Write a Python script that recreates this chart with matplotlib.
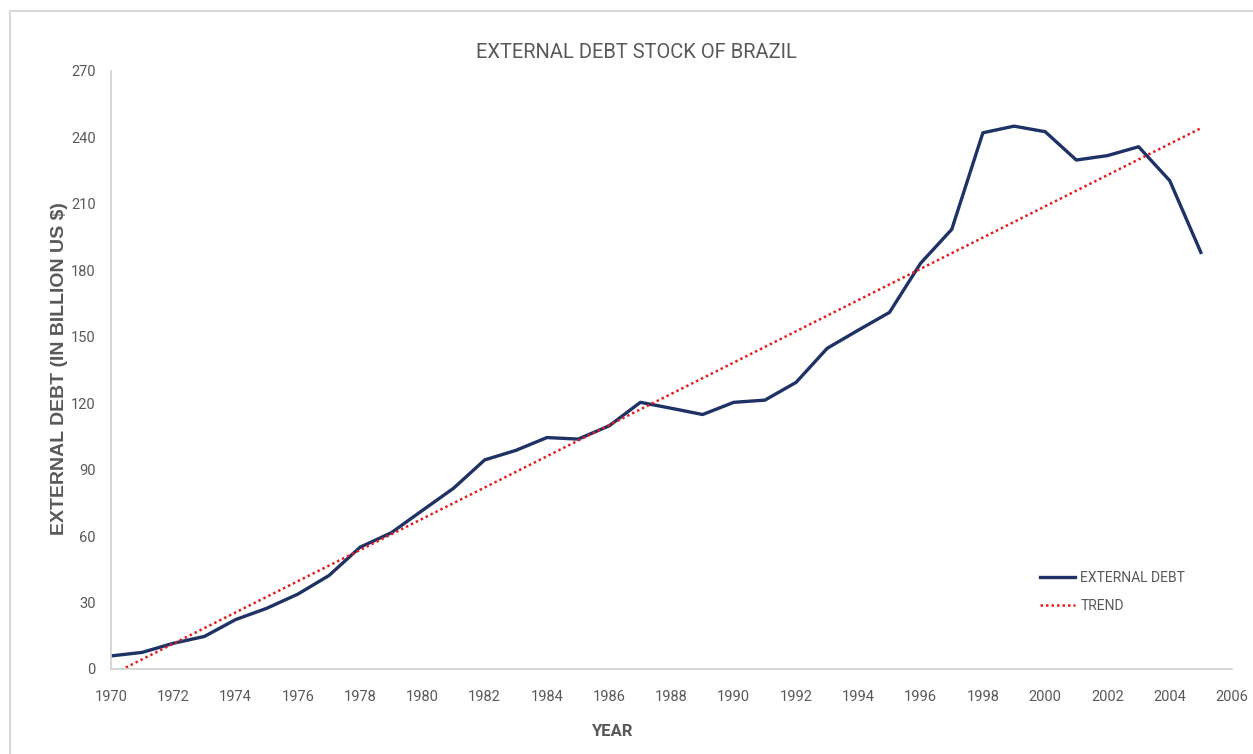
import numpy as np
import matplotlib
matplotlib.use("Agg")
import matplotlib.pyplot as plt
from matplotlib.lines import Line2D

years = list(range(1970, 2006))
external_debt = [5.9, 7.5, 11.6, 14.7, 22.3, 27.4, 33.8, 42.2, 55.0, 61.5,
                 71.6, 81.6, 94.4, 98.7, 104.5, 103.8, 109.8, 120.4, 117.7, 114.9,
                 120.4, 121.4, 129.4, 144.8, 153.0, 161.0, 183.2, 198.5, 242.1, 245.1,
                 242.6, 229.8, 231.8, 235.8, 220.5, 188.1]
y_ticks = [0, 30, 60, 90, 120, 150, 180, 210, 240, 270]
x_ticks = list(range(1970, 2007, 2))
title = "EXTERNAL DEBT STOCK OF BRAZIL"
x_label = "YEAR"
y_label = "EXTERNAL DEBT (IN BILLION US $)"
legend_labels = ["EXTERNAL DEBT", "TREND"]

plt.rcParams['font.family'] = ['Roboto', 'DejaVu Sans']

W, H = 1253, 754
grey = "#595959"
fig = plt.figure(figsize=(W/100, H/100), dpi=100)
ax = fig.add_axes([111/W, 1 - 669/H, (1232-111)/W, (669-71)/H])

x = np.array(years, dtype=float)
y = np.array(external_debt)
coef = np.polyfit(x, y, 1)
trend = np.polyval(coef, x)

ax.plot(x, y, color="#1f3266", lw=2.4, label=legend_labels[0], solid_joinstyle='round')
ax.plot(x, trend, color="#e02020", lw=1.8, ls=(0, (1, 1.2)), label=legend_labels[1])

ax.set_xlim(1970, 2006)
ax.set_ylim(0, 270)
ax.set_xticks(x_ticks)
ax.set_yticks(y_ticks)
ax.tick_params(axis='both', length=0, labelsize=10.5, labelcolor=grey)
ax.tick_params(axis='x', pad=15)
ax.tick_params(axis='y', pad=11)
for s in ['top', 'right']:
    ax.spines[s].set_visible(False)
for s in ['left', 'bottom']:
    ax.spines[s].set_color("#d0d0d0")
    ax.spines[s].set_linewidth(1.2)

fig.text(636/W, 1 - 52/H, title, ha='center', va='center', fontsize=14.5, color=grey)
fig.text(612/W, 1 - 731/H, x_label, ha='center', va='center', fontsize=12,
         color=grey, fontweight='bold')
fig.text(60/W, 1 - 369/H, y_label, ha='center', va='center', rotation=90,
         fontsize=14, color=grey, fontweight='bold', family=['Liberation Sans', 'DejaVu Sans'])

leg = ax.legend(loc='upper left', bbox_to_anchor=(1040/W, 1 - 571/H),
                bbox_transform=fig.transFigure, frameon=False, fontsize=10,
                handlelength=2.5, handletextpad=0.4, labelspacing=1.0,
                borderpad=0, borderaxespad=0)
for t in leg.get_texts():
    t.set_color(grey)

fig.add_artist(Line2D([10/W, 1], [1 - 11/H, 1 - 11/H], transform=fig.transFigure,
                      color="#d9d9d9", lw=1.5))
fig.add_artist(Line2D([10/W, 10/W], [0, 1 - 11/H], transform=fig.transFigure,
                      color="#d9d9d9", lw=1.5))

fig.savefig("out.png", dpi=100, facecolor="white")
